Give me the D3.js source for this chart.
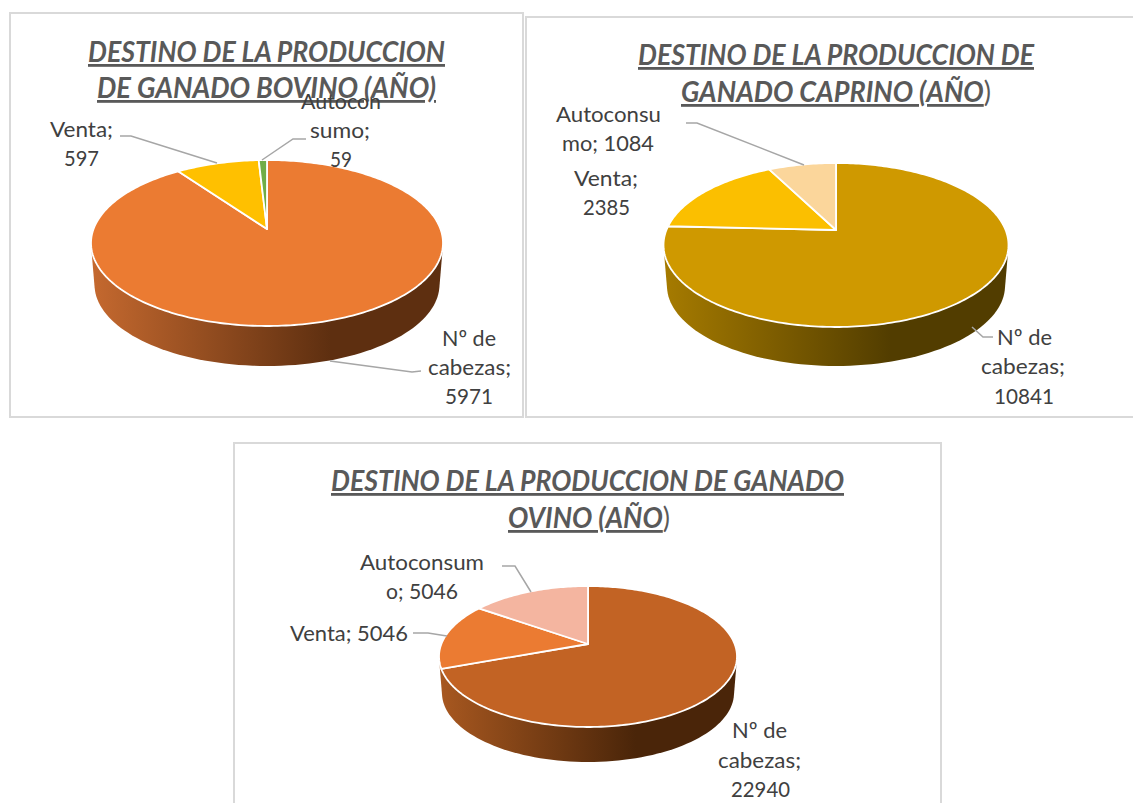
<!DOCTYPE html>
<html>
<head>
<meta charset="utf-8">
<script src="https://cdn.jsdelivr.net/npm/d3@7"></script>
<style>
html,body{margin:0;padding:0;background:#fff;overflow:hidden}
svg{display:block}
text{font-family:Lato,"Open Sans",sans-serif}
</style>
</head>
<body>
<svg id="c" width="1133" height="803"></svg>
<script>
const categories = ["Nº de cabezas", "Venta", "Autoconsumo"];
const bovinoValues = [5971, 597, 59];
const caprinoValues = [10841, 2385, 1084];
const ovinoValues = [22940, 5046, 5046];

const bovinoColors = ["#EB7B32", "#FFC000", "#70AD47"];
const caprinoColors = ["#CF9900", "#FBBF00", "#FBD69B"];
const ovinoColors = ["#C26324", "#EB7B32", "#F4B5A0"];

const charts = [
  {
    frame: [10, 13, 513, 404], values: bovinoValues, colors: bovinoColors,
    apex: [267, 229], above: 69, below: 97, half: 176, wallBottom: 366,
    wall: ["#C5692F", "#5E2F10"], wallDark: 0.68,
    title: [
      {x: 88, len: 357, y: 62, main: "DESTINO DE LA PRODUCCION", tail: ""},
      {x: 97, len: 339, y: 98, main: "DE GANADO BOVINO (AÑO)", tail: ""}
    ],
    labels: [
      {t: "Venta;", x: 50, len: 63, y: 137}, {t: "597", x: 64, len: 35, y: 166},
      {t: "Autocon", x: 301, len: 80, y: 109}, {t: "sumo;", x: 310, len: 60, y: 138}, {t: "59", x: 330, len: 22, y: 167},
      {t: "Nº de", x: 442, len: 54, y: 346}, {t: "cabezas;", x: 428, len: 83, y: 375}, {t: "5971", x: 445, len: 48, y: 404}
    ],
    leaders: [
      [[120, 136], [131, 136], [217, 163]],
      [[306, 139], [293, 139], [262, 160]],
      [[421, 371], [412, 372], [330, 361]]
    ]
  },
  {
    frame: [526, 17, 620, 400], values: caprinoValues, colors: caprinoColors,
    apex: [836, 230], above: 67, below: 97, half: 172.5, wallBottom: 366,
    wall: ["#A67B00", "#523D00"], wallDark: 0.66,
    title: [
      {x: 638, len: 396, y: 65, main: "DESTINO DE LA PRODUCCION DE", tail: ""},
      {x: 681, len: 310, y: 102, main: "GANADO CAPRINO (AÑO", tail: ")"}
    ],
    labels: [
      {t: "Autoconsu", x: 556, len: 105, y: 122}, {t: "mo; 1084", x: 562, len: 92, y: 151},
      {t: "Venta;", x: 574, len: 64, y: 186}, {t: "2385", x: 583, len: 47, y: 215},
      {t: "Nº de", x: 997, len: 55, y: 345}, {t: "cabezas;", x: 981, len: 84, y: 374}, {t: "10841", x: 994, len: 60, y: 404}
    ],
    leaders: [
      [[686, 123], [697, 123], [804, 165]],
      [[993, 337], [983, 337], [972, 327]]
    ]
  },
  {
    frame: [234, 443, 707, 380], values: ovinoValues, colors: ovinoColors,
    apex: [588, 644], above: 58, below: 83, half: 149, wallBottom: 762,
    wall: ["#A85820", "#4A2509"], wallDark: 0.66,
    title: [
      {x: 331, len: 513, y: 491, main: "DESTINO DE LA PRODUCCION DE GANADO", tail: ""},
      {x: 508, len: 162, y: 528, main: "OVINO (AÑO", tail: ")"}
    ],
    labels: [
      {t: "Autoconsum", x: 360, len: 124, y: 570}, {t: "o; 5046", x: 386, len: 72, y: 599},
      {t: "Venta; 5046", x: 290, len: 118, y: 641},
      {t: "Nº de", x: 732, len: 55, y: 738}, {t: "cabezas;", x: 718, len: 83, y: 768}, {t: "22940", x: 731, len: 59, y: 797}
    ],
    leaders: [
      [[502, 566], [515, 566], [531, 592]],
      [[413, 633], [428, 633], [447, 636]]
    ]
  }
];

const svg = d3.select("#c");
const defs = svg.append("defs");
const pie = d3.pie().sort(null);
const line = d3.line();

charts.forEach((c, i) => {
  const g = svg.append("g");
  g.append("rect")
    .attr("x", c.frame[0]).attr("y", c.frame[1])
    .attr("width", c.frame[2]).attr("height", c.frame[3])
    .attr("fill", "#fff").attr("stroke", "#d9d9d9").attr("stroke-width", 2);

  // perspective projection of the pie's circle
  const k = (c.below - c.above) / (c.below + c.above);
  const B = c.above * (1 + k);
  const A = c.half * Math.sqrt(1 - k * k);
  const proj = (a, s = 1, dy = 0) => {
    const X = Math.sin(a), Y = Math.cos(a), w = 1 + k * Y;
    return [c.apex[0] + s * A * X / w, c.apex[1] + dy - s * B * Y / w];
  };
  const s2 = 0.98;
  const dy2 = c.wallBottom - c.apex[1] - s2 * c.below;
  const circle = d3.range(0, 360, 2).map(d => d * Math.PI / 180);

  const grad = defs.append("linearGradient").attr("id", "wall" + i);
  grad.append("stop").attr("offset", 0).attr("stop-color", c.wall[0]);
  grad.append("stop").attr("offset", c.wallDark).attr("stop-color", c.wall[1]);
  grad.append("stop").attr("offset", 1).attr("stop-color", c.wall[1]);

  const hull = d3.polygonHull(circle.map(a => proj(a)).concat(circle.map(a => proj(a, s2, dy2))));
  g.append("path").attr("d", line(hull) + "Z").attr("fill", `url(#wall${i})`);

  g.selectAll("path.slice").data(pie(c.values)).join("path")
    .attr("class", "slice")
    .attr("fill", (d, j) => c.colors[j])
    .attr("stroke", "#fff").attr("stroke-width", 1.8).attr("stroke-linejoin", "round")
    .attr("d", d => {
      const n = Math.max(2, Math.ceil((d.endAngle - d.startAngle) / 0.02));
      const pts = d3.range(n + 1).map(t => proj(d.startAngle + (d.endAngle - d.startAngle) * t / n));
      return line([c.apex].concat(pts)) + "Z";
    });

  c.leaders.forEach(l => g.append("path").attr("d", line(l))
    .attr("fill", "none").attr("stroke", "#a6a6a6").attr("stroke-width", 1.5));

  c.title.forEach(t => {
    const el = g.append("text").attr("x", t.x).attr("y", t.y)
      .attr("textLength", t.len).attr("lengthAdjust", "spacingAndGlyphs")
      .attr("font-size", 28).attr("fill", "#595959");
    el.append("tspan").text(t.main)
      .attr("font-weight", 700).attr("font-style", "italic")
      .style("text-decoration", "underline");
    if (t.tail) el.append("tspan").text(t.tail);
  });

  c.labels.forEach(t => g.append("text").attr("x", t.x).attr("y", t.y)
    .attr("textLength", t.len).attr("lengthAdjust", "spacingAndGlyphs")
    .attr("font-size", 22).attr("fill", "#404040").text(t.t));
});
</script>
</body>
</html>
